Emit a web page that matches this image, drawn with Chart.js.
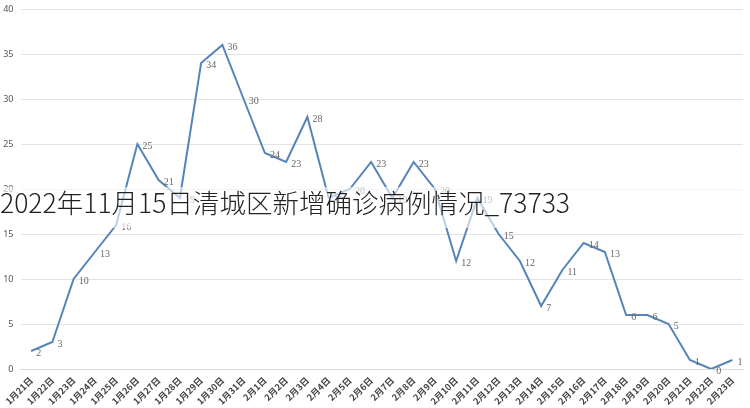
<!DOCTYPE html>
<html>
<head>
<meta charset="utf-8">
<script src="https://cdn.jsdelivr.net/npm/chart.js@4"></script>
<style>
  html,body{margin:0;padding:0;background:#fff;overflow:hidden;}
  #wrap{position:relative;width:750px;height:408px;}
  #title{position:absolute;left:0;top:187px;width:750px;height:41px;line-height:30px;
    background:rgba(255,255,255,0.6);font-family:"Noto Sans CJK SC","Noto Sans",sans-serif;
    font-size:26.5px;font-weight:300;color:#222;white-space:nowrap;}
</style>
</head>
<body>
<div id="wrap">
  <canvas id="c" width="750" height="408"></canvas>
  <div id="title">2022年11月15日清城区新增确诊病例情况_73733</div>
</div>
<script>
const categories = ['1月21日','1月22日','1月23日','1月24日','1月25日','1月26日','1月27日','1月28日','1月29日','1月30日','1月31日',
  '2月1日','2月2日','2月3日','2月4日','2月5日','2月6日','2月7日','2月8日','2月9日','2月10日','2月11日','2月12日',
  '2月13日','2月14日','2月15日','2月16日','2月17日','2月18日','2月19日','2月20日','2月21日','2月22日','2月23日'];
const cases = [2,3,10,13,16,25,21,19,34,36,30,
  24,23,28,19,20,23,19,23,20,12,19,15,12,7,11,14,13,6,6,5,1,0,1];
const yTicks = [0,5,10,15,20,25,30,35,40];

const valueLabels = {
  id: 'valueLabels',
  afterDatasetsDraw(chart) {
    const ctx = chart.ctx;
    const meta = chart.getDatasetMeta(0);
    ctx.save();
    ctx.font = '10px "Liberation Serif", "DejaVu Serif", serif';
    ctx.fillStyle = '#666';
    ctx.textAlign = 'left';
    ctx.textBaseline = 'middle';
    meta.data.forEach((pt, i) => {
      ctx.fillText(String(cases[i]), pt.x + 5, pt.y + 2);
    });
    ctx.restore();
  }
};

new Chart(document.getElementById('c'), {
  type: 'line',
  data: {
    labels: categories,
    datasets: [{
      data: cases,
      borderColor: '#5585b8',
      borderWidth: 2,
      pointRadius: 0,
      tension: 0,
      fill: false
    }]
  },
  options: {
    responsive: false,
    animation: false,
    devicePixelRatio: 1,
    layout: { padding: { top: 9, right: 7, left: 0, bottom: 0 } },
    plugins: { legend: { display: false }, tooltip: { enabled: false } },
    scales: {
      x: {
        offset: true,
        grid: { display: false, drawTicks: false },
        border: { display: true, color: '#d9d9d9' },
        ticks: {
          autoSkip: false, maxRotation: 45, minRotation: 45, padding: 6,
          color: '#444', font: { family: '"Noto Sans CJK SC", sans-serif', size: 9, weight: 'bold' }
        },
        afterFit(s) { s.height = 39; s.paddingLeft = 0; s.paddingRight = 0; }
      },
      y: {
        min: 0, max: 40,
        afterBuildTicks(s) { s.ticks = yTicks.map(v => ({ value: v })); },
        grid: { color: '#e3e3e3', drawTicks: false },
        border: { display: false },
        ticks: { padding: 7, color: '#555', font: { family: '"Noto Sans", sans-serif', size: 9 } },
        afterFit(s) { s.width = 20.5; s.paddingTop = 0; s.paddingBottom = 0; }
      }
    }
  },
  plugins: [valueLabels]
});
</script>
</body>
</html>
